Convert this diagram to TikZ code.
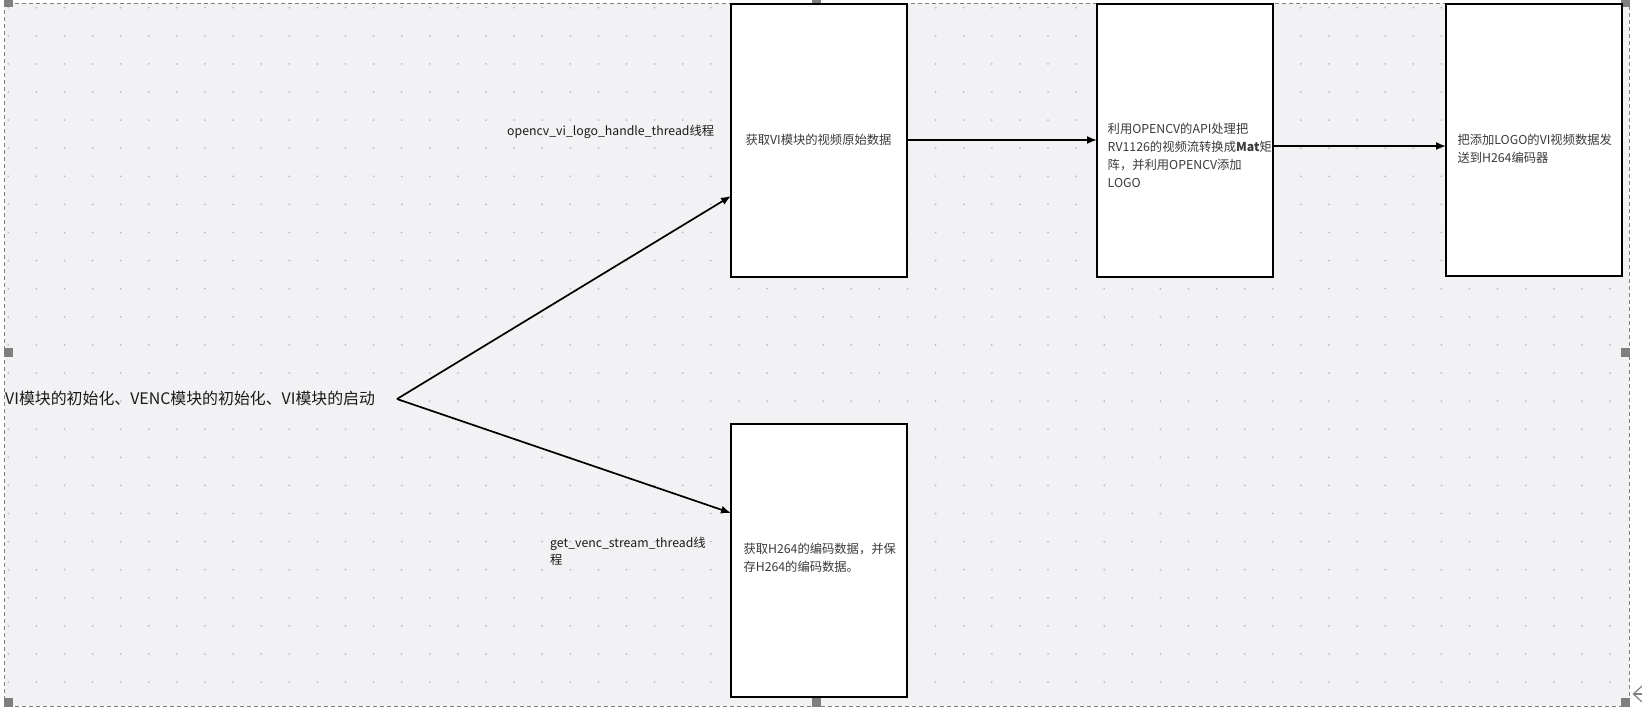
\documentclass[tikz,border=0pt]{standalone}
\usepackage{fontspec}
\setmainfont{Noto Sans CJK SC}
\usetikzlibrary{arrows.meta}
\definecolor{canvas}{HTML}{F2F2F4}
\definecolor{griddot}{HTML}{BDBDC2}
\definecolor{handle}{HTML}{7F7F7F}
\definecolor{boxtext}{HTML}{3A3A3A}
\definecolor{labeltext}{HTML}{1A1A1A}
\tikzset{
  stepbox/.style={draw=black, line width=2pt, fill=white},
  boxlabel/.style={font=\fontsize{12.3}{18.3}\selectfont, text=boxtext, align=left, inner sep=0pt},
  threadlabel/.style={font=\fontsize{12.3}{17.6}\selectfont, text=labeltext, align=left, inner sep=0pt},
  flow/.style={line width=1.7pt, -{Latex[length=10pt,width=8pt]}},
  handlebox/.style={fill=handle},
}
\begin{document}
\begin{tikzpicture}[x=1pt,y=-1pt]
\useasboundingbox (0,0) rectangle (1642,710);
\fill[white] (0,0) rectangle (1642,710);
\fill[canvas] (4.5,3) rectangle (1629,706);
\foreach \i in {0,...,57}{
  \foreach \j in {0,...,24}{
    \fill[griddot] (8.3+28.1*\i,7.7+28.1*\j) circle (1.0);
  }
}
\draw[handle, dashed, dash pattern=on 4pt off 3pt, line width=0.8pt] (4.5,3) rectangle (1629,706);
% handles
\fill[handlebox] (4.3,-1) rectangle (12.7,7);
\fill[handlebox] (812.3,-1) rectangle (821,7);
\fill[handlebox] (1621,-1) rectangle (1629.5,7);
\fill[handlebox] (4.3,348) rectangle (12.7,357);
\fill[handlebox] (1621,348) rectangle (1629.5,357);
\fill[handlebox] (4.3,698) rectangle (12.7,707);
\fill[handlebox] (812.3,698) rectangle (821,707);
\fill[handlebox] (1621,698) rectangle (1629.5,707);
\draw[handle, line width=1.2pt] (1642,686) -- (1633.5,694) -- (1642,702);
\draw[handle, line width=1.2pt] (1633.5,694) -- (1642,694);

% boxes
\draw[stepbox] (731,4) rectangle (907,277);
\draw[stepbox] (1097,4) rectangle (1273,277);
\draw[stepbox] (1446,3.5) rectangle (1622,276);
\draw[stepbox] (731,424) rectangle (907,697);
\coordinate (b1w) at (731,196);
\coordinate (b1e) at (907,140);
\coordinate (b2w) at (1097,140);
\coordinate (b2e) at (1273,146);
\coordinate (b3w) at (1446,146);
\coordinate (b4w) at (731,513);
\coordinate (start) at (397,399);

% texts
\node[font=\fontsize{15.9}{18}\selectfont, text=labeltext, anchor=west, inner sep=0pt] (main) at (5,398) {VI模块的初始化、VENC模块的初始化、VI模块的启动};
\node[threadlabel, anchor=west] (t1) at (507,132.3) {opencv\_vi\_logo\_handle\_thread线程};
\node[threadlabel, anchor=north west] (t2) at (550,536.5) {get\_venc\_stream\_thread线\\程};
\node[boxlabel, anchor=center] (l1) at (818.5,140) {获取VI模块的视频原始数据};
\node[boxlabel, anchor=north west] (l2) at (1107.5,122.5) {利用OPENCV的API处理把\\RV1126的视频流转换成\textbf{Mat}矩\\阵，并利用OPENCV添加\\LOGO};
\node[boxlabel, anchor=north west] (l3) at (1457.3,134) {把添加LOGO的VI视频数据发\\送到H264编码器};
\node[boxlabel, anchor=north west] (l4) at (743.3,543) {获取H264的编码数据，并保\\存H264的编码数据。};

% connectors
\draw[flow] (start) -- (b1w);
\draw[flow] (start) -- (b4w);
\draw[flow] (b1e) -- (b2w);
\draw[flow] (b2e) -- (b3w);
\end{tikzpicture}
\end{document}
